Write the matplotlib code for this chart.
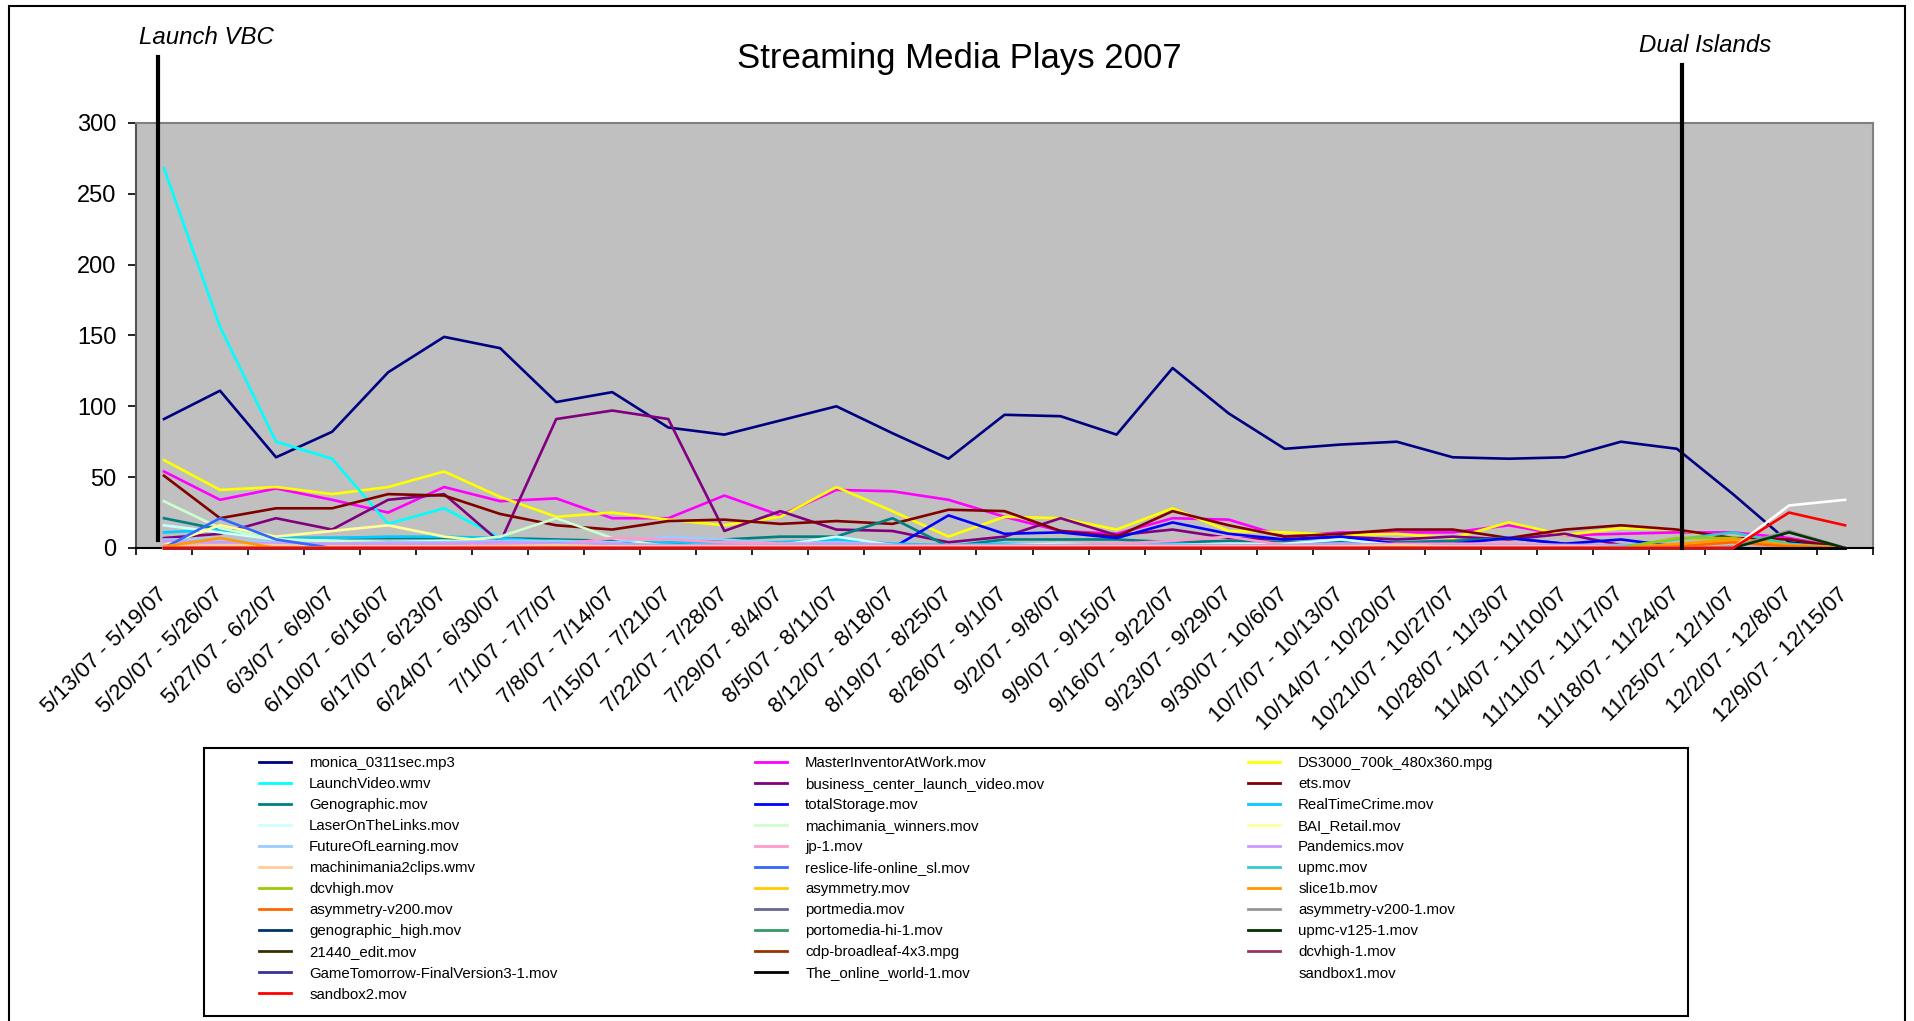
import numpy as np
import matplotlib.pyplot as plt
from matplotlib.patches import Rectangle

plt.rcParams['font.family'] = ['Liberation Sans', 'DejaVu Sans']

# week ranges (categories)
weeks = ["5/13/07 - 5/19/07", "5/20/07 - 5/26/07", "5/27/07 - 6/2/07", "6/3/07 - 6/9/07",
         "6/10/07 - 6/16/07", "6/17/07 - 6/23/07", "6/24/07 - 6/30/07", "7/1/07 - 7/7/07",
         "7/8/07 - 7/14/07", "7/15/07 - 7/21/07", "7/22/07 - 7/28/07", "7/29/07 - 8/4/07",
         "8/5/07 - 8/11/07", "8/12/07 - 8/18/07", "8/19/07 - 8/25/07", "8/26/07 - 9/1/07",
         "9/2/07 - 9/8/07", "9/9/07 - 9/15/07", "9/16/07 - 9/22/07", "9/23/07 - 9/29/07",
         "9/30/07 - 10/6/07", "10/7/07 - 10/13/07", "10/14/07 - 10/20/07", "10/21/07 - 10/27/07",
         "10/28/07 - 11/3/07", "11/4/07 - 11/10/07", "11/11/07 - 11/17/07", "11/18/07 - 11/24/07",
         "11/25/07 - 12/1/07", "12/2/07 - 12/8/07", "12/9/07 - 12/15/07"]

# plays per week
monica = [91, 111, 64, 82, 124, 149, 141, 103, 110, 85, 80, 90, 100, 81, 63, 94,
          93, 80, 127, 95, 70, 73, 75, 64, 63, 64, 75, 70, 38, 4, 0]
master_inventor = [54, 34, 42, 34, 25, 43, 33, 35, 21, 21, 37, 23, 41, 40, 34, 22,
                   12, 10, 21, 20, 8, 11, 11, 11, 16, 9, 10, 11, 11, 7, 0]
ds3000 = [62, 41, 43, 38, 43, 54, 36, 22, 25, 20, 16, 22, 43, 26, 8, 22,
          21, 13, 28, 12, 11, 9, 10, 7, 18, 9, 14, 13, 6, 1, 0]
launch_video = [268, 156, 75, 63, 17, 28, 7, 3, 2, 2, 1, 1, 2, 2, 1, 2,
                1, 1, 2, 1, 1, 1, 1, 1, 1, 0, 0, 0, 0, 0, 0]
business_center = [7, 10, 21, 13, 34, 38, 4, 91, 97, 91, 12, 26, 13, 12, 4, 8,
                   21, 9, 13, 7, 6, 8, 6, 8, 6, 10, 2, 1, 0, 0, 0]
ets = [51, 21, 28, 28, 38, 37, 24, 16, 13, 19, 20, 17, 19, 17, 27, 26,
       12, 8, 26, 16, 8, 10, 13, 13, 7, 13, 16, 13, 7, 6, 0]
genographic = [21, 13, 7, 7, 7, 7, 7, 6, 5, 3, 6, 8, 8, 21, 1, 6,
               6, 6, 4, 5, 4, 5, 4, 5, 7, 3, 1, 1, 0, 0, 0]
total_storage = [0, 0, 0, 0, 0, 0, 0, 0, 0, 0, 0, 0, 0, 0, 23, 10,
                 11, 7, 18, 10, 6, 8, 3, 3, 7, 3, 6, 1, 0, 0, 0]
real_time_crime = [11, 13, 7, 7, 8, 8, 7, 4, 3, 4, 4, 4, 6, 3, 2, 3,
                   2, 2, 3, 2, 2, 3, 2, 2, 1, 2, 1, 1, 0, 0, 0]
laser_links = [16, 11, 6, 5, 4, 5, 3, 2, 2, 2, 1, 2, 8, 2, 1, 2,
               3, 2, 2, 3, 3, 6, 2, 2, 1, 1, 1, 0, 0, 0, 0]
machimania_winners = [33, 14, 6, 5, 4, 4, 8, 21, 7, 1, 0, 0, 0, 0, 0, 0,
                      0, 0, 0, 0, 0, 0, 0, 0, 0, 0, 0, 0, 0, 0, 0]
bai_retail = [2, 16, 8, 12, 16, 8, 4, 2, 1, 0, 0, 0, 0, 0, 0, 0,
              0, 0, 0, 0, 0, 0, 0, 0, 0, 0, 0, 0, 0, 0, 0]
future_learning = [6, 6, 4, 3, 4, 4, 5, 5, 4, 8, 6, 3, 4, 2, 1, 1,
                   2, 1, 2, 2, 1, 2, 1, 1, 1, 1, 1, 0, 0, 0, 0]
jp_1 = [2, 2, 2, 2, 2, 3, 3, 2, 7, 6, 4, 3, 3, 2, 1, 1,
        2, 3, 5, 8, 2, 2, 3, 3, 3, 2, 2, 2, 1, 0, 0]
pandemics = [5, 4, 3, 3, 3, 3, 4, 3, 3, 2, 2, 2, 3, 2, 2, 2,
             2, 2, 2, 2, 2, 3, 2, 2, 2, 2, 2, 1, 1, 0, 0]
machinimania2clips = [1, 2, 2, 1, 1, 1, 1, 2, 1, 1, 1, 1, 1, 1, 1, 1,
                      1, 1, 1, 1, 1, 1, 2, 1, 1, 1, 1, 1, 1, 0, 0]
reslice = [0, 21, 6, 0, 0, 0, 0, 0, 0, 0, 0, 0, 0, 0, 0, 0,
           0, 0, 0, 0, 0, 0, 0, 0, 0, 0, 0, 0, 0, 0, 0]
upmc = [0, 0, 0, 0, 0, 0, 0, 0, 0, 0, 0, 0, 0, 0, 0, 0,
        0, 0, 0, 0, 0, 0, 0, 0, 0, 0, 1, 6, 11, 3, 0]
dcvhigh = [0, 0, 0, 0, 0, 0, 0, 0, 0, 0, 0, 0, 0, 0, 0, 0,
           0, 0, 0, 0, 0, 0, 0, 0, 0, 0, 0, 7, 7, 2, 0]
asymmetry = [0, 0, 0, 0, 0, 0, 0, 0, 0, 0, 0, 0, 0, 0, 0, 0,
             0, 0, 0, 0, 0, 0, 0, 0, 0, 0, 0, 2, 5, 2, 0]
slice1b = [1, 7, 0, 0, 0, 0, 0, 0, 0, 0, 0, 0, 0, 0, 0, 0,
           0, 0, 0, 0, 0, 0, 0, 0, 0, 0, 0, 3, 6, 2, 0]
asymmetry_v200 = [0, 0, 0, 0, 0, 0, 0, 0, 0, 0, 0, 0, 0, 0, 0, 0,
                  0, 0, 0, 0, 0, 0, 0, 0, 0, 0, 0, 1, 4, 1, 0]
portmedia = [0, 0, 0, 0, 0, 0, 0, 0, 0, 0, 0, 0, 0, 0, 0, 0,
             0, 0, 0, 0, 0, 0, 0, 0, 0, 0, 0, 0, 0, 0, 0]
asymmetry_v200_1 = [0, 0, 0, 0, 0, 0, 0, 0, 0, 0, 0, 0, 0, 0, 0, 0,
                    0, 0, 0, 0, 0, 0, 0, 0, 0, 0, 0, 0, 1, 12, 0]
genographic_high = [0, 0, 0, 0, 0, 0, 0, 0, 0, 0, 0, 0, 0, 0, 0, 0,
                    0, 0, 0, 0, 0, 0, 0, 0, 0, 0, 0, 0, 0, 0, 0]
portomedia_hi = [0, 0, 0, 0, 0, 0, 0, 0, 0, 0, 0, 0, 0, 0, 0, 0,
                 0, 0, 0, 0, 0, 0, 0, 0, 0, 0, 0, 0, 0, 0, 0]
upmc_v125 = [0, 0, 0, 0, 0, 0, 0, 0, 0, 0, 0, 0, 0, 0, 0, 0,
             0, 0, 0, 0, 0, 0, 0, 0, 0, 0, 0, 0, 0, 11, 0]
edit_21440 = [0, 0, 0, 0, 0, 0, 0, 0, 0, 0, 0, 0, 0, 0, 0, 0,
              0, 0, 0, 0, 0, 0, 0, 0, 0, 0, 0, 0, 0, 0, 0]
cdp_broadleaf = [0, 0, 0, 0, 0, 0, 0, 0, 0, 0, 0, 0, 0, 0, 0, 0,
                 0, 0, 0, 0, 0, 0, 0, 0, 0, 0, 0, 0, 0, 0, 0]
dcvhigh_1 = [0, 0, 0, 0, 0, 0, 0, 0, 0, 0, 0, 0, 0, 0, 0, 0,
             0, 0, 0, 0, 0, 0, 0, 0, 0, 0, 0, 0, 0, 0, 0]
game_tomorrow = [0, 0, 0, 0, 0, 0, 0, 0, 0, 0, 0, 0, 0, 0, 0, 0,
                 0, 0, 0, 0, 0, 0, 0, 0, 0, 0, 0, 0, 0, 0, 0]
online_world = [0, 0, 0, 0, 0, 0, 0, 0, 0, 0, 0, 0, 0, 0, 0, 0,
                0, 0, 0, 0, 0, 0, 0, 0, 0, 0, 0, 0, 0, 0, 0]
sandbox1 = [0, 0, 0, 0, 0, 0, 0, 0, 0, 0, 0, 0, 0, 0, 0, 0,
            0, 0, 0, 0, 0, 0, 0, 0, 0, 0, 0, 0, 0, 30, 34]
sandbox2 = [0, 0, 0, 0, 0, 0, 0, 0, 0, 0, 0, 0, 0, 0, 0, 0,
            0, 0, 0, 0, 0, 0, 0, 0, 0, 0, 0, 0, 0, 25, 16]

series_names = ["monica_0311sec.mp3", "MasterInventorAtWork.mov", "DS3000_700k_480x360.mpg",
                "LaunchVideo.wmv", "business_center_launch_video.mov", "ets.mov",
                "Genographic.mov", "totalStorage.mov", "RealTimeCrime.mov",
                "LaserOnTheLinks.mov", "machimania_winners.mov", "BAI_Retail.mov",
                "FutureOfLearning.mov", "jp-1.mov", "Pandemics.mov",
                "machinimania2clips.wmv", "reslice-life-online_sl.mov", "upmc.mov",
                "dcvhigh.mov", "asymmetry.mov", "slice1b.mov",
                "asymmetry-v200.mov", "portmedia.mov", "asymmetry-v200-1.mov",
                "genographic_high.mov", "portomedia-hi-1.mov", "upmc-v125-1.mov",
                "21440_edit.mov", "cdp-broadleaf-4x3.mpg", "dcvhigh-1.mov",
                "GameTomorrow-FinalVersion3-1.mov", "The_online_world-1.mov", "sandbox1.mov",
                "sandbox2.mov"]
series_values = [monica, master_inventor, ds3000, launch_video, business_center, ets,
                 genographic, total_storage, real_time_crime, laser_links, machimania_winners,
                 bai_retail, future_learning, jp_1, pandemics, machinimania2clips, reslice,
                 upmc, dcvhigh, asymmetry, slice1b, asymmetry_v200, portmedia, asymmetry_v200_1,
                 genographic_high, portomedia_hi, upmc_v125, edit_21440, cdp_broadleaf,
                 dcvhigh_1, game_tomorrow, online_world, sandbox1, sandbox2]
series_colors = ["#000080", "#FF00FF", "#FFFF00", "#00FFFF", "#800080", "#800000",
                 "#008080", "#0000FF", "#00CCFF", "#CCFFFF", "#CCFFCC", "#FFFF99",
                 "#99CCFF", "#FF99CC", "#CC99FF", "#FFCC99", "#3366FF", "#33CCCC",
                 "#99CC00", "#FFCC00", "#FF9900", "#FF6600", "#666699", "#969696",
                 "#003366", "#339966", "#003300", "#333300", "#993300", "#993366",
                 "#333399", "#000000", "#FFFFFF", "#FF0000"]

# event markers
events = ["Launch VBC", "Dual Islands"]
event_x = [0.39, 27.59]
event_span = [(5.6, 346.6), (0, 341)]
event_text_x = [1.25, 28.0]
event_text_y = [356, 350]

fig = plt.figure(figsize=(19.15, 10.21), dpi=100)
ax = fig.add_axes([0.0710, 0.4633, 0.9071, 0.4163])
ax.set_facecolor('#C0C0C0')

x = np.arange(len(weeks)) + 0.5
handles = []
for name, vals, col in zip(series_names, series_values, series_colors):
    h, = ax.plot(x, vals, color=col, lw=1.9, label=name, clip_on=False, zorder=3)
    handles.append(h)

ax.set_xlim(0, len(weeks))
ax.set_ylim(0, 300)
ax.set_yticks(np.arange(0, 301, 50))
ax.tick_params(axis='y', labelsize=17, length=6, width=1.2, pad=8, direction='out')
ax.set_xticks(x)
ax.set_xticklabels(weeks, rotation=45, ha='right', va='center', rotation_mode='anchor')
ax.tick_params(axis='x', which='major', labelsize=16, length=0, pad=31)
ax.set_xticks(np.arange(0, len(weeks) + 1), minor=True)
ax.tick_params(axis='x', which='minor', length=5, width=1.2, direction='out')

ax.spines['left'].set_color('#555555')
ax.spines['bottom'].set_color('black')
ax.spines['top'].set_color('#808080')
ax.spines['right'].set_color('#808080')
for s in ax.spines.values():
    s.set_linewidth(1.5)

for name, ex, (y0, y1), tx, ty in zip(events, event_x, event_span, event_text_x, event_text_y):
    ax.plot([ex, ex], [y0, y1], color='black', lw=3, clip_on=False, zorder=5)
    ax.text(tx, ty, name, fontsize=17.3, style='italic', ha='center', va='baseline')

fig.text(0.5008, 1 - 58.5 / 1021, "Streaming Media Plays 2007", fontsize=25,
         ha='center', va='center')

# legend: three columns, filled row by row like Excel
col_left = [259 / 1915, 755 / 1915, 1248 / 1915]
for c in range(3):
    idx = list(range(c, len(handles), 3))
    leg = fig.legend([handles[i] for i in idx], [series_names[i] for i in idx],
                     loc='upper left', bbox_to_anchor=(col_left[c], 1 - 756 / 1021),
                     frameon=False, ncol=1, borderpad=0, borderaxespad=0,
                     handlelength=2.15, handletextpad=1.2, labelspacing=0.47,
                     prop={'size': 10.8})
    for lh in leg.get_lines():
        lh.set_linewidth(2)

fig.add_artist(Rectangle((204 / 1915, 1 - 1016 / 1021), 1484 / 1915, 268 / 1021,
                         transform=fig.transFigure, fill=False, ec='black', lw=1.5))
fig.add_artist(Rectangle((9 / 1915, -0.02), 1896 / 1915, 0.02 + 1 - 6 / 1021,
                         transform=fig.transFigure, fill=False, ec='black', lw=1.5))

fig.savefig('out.png', dpi=100)
